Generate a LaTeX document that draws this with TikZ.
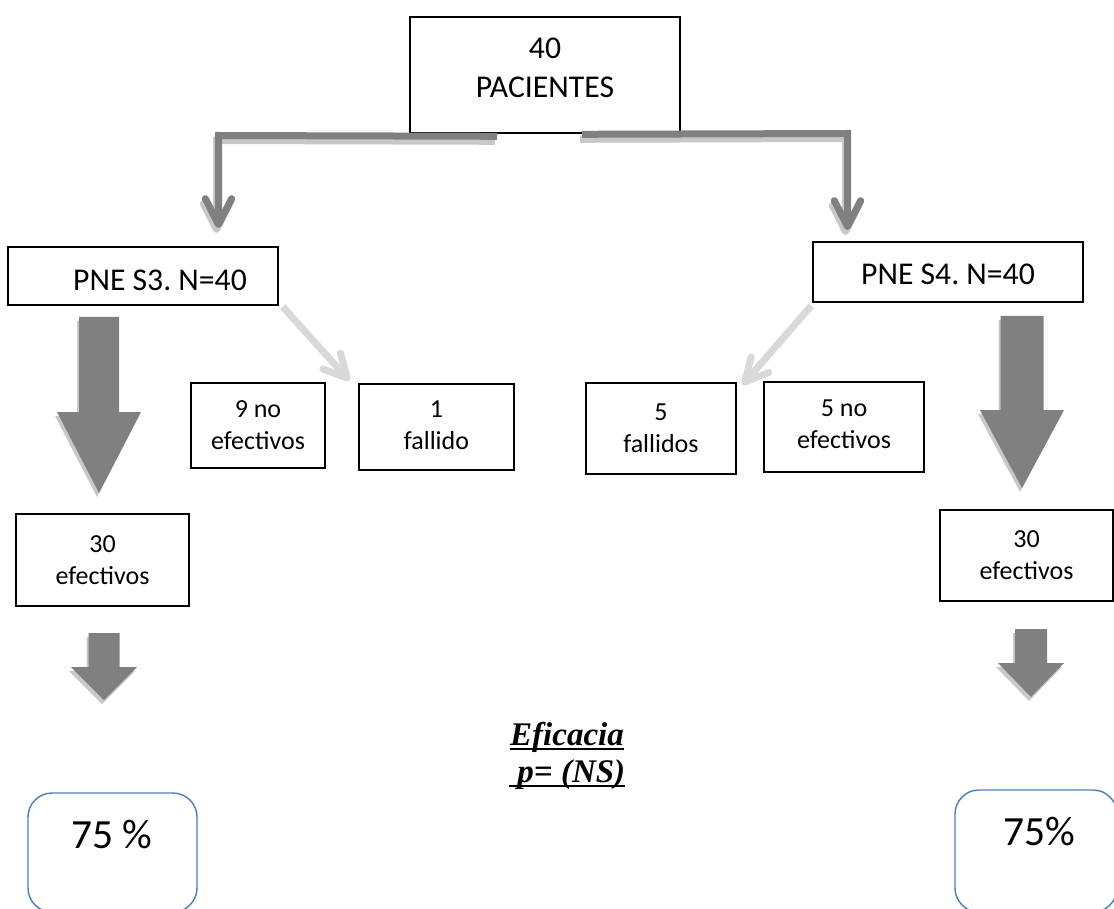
\documentclass[tikz,border=0pt]{standalone}
\usepackage{fontspec}
\setmainfont{Carlito}
\newfontfamily\effont{Liberation Serif}
\usetikzlibrary{calc}
\frenchspacing

\definecolor{arrowgray}{HTML}{808080}
\definecolor{shadowgray}{HTML}{C8C8C8}
\definecolor{lightarrow}{HTML}{D9D9D9}
\definecolor{roundblue}{HTML}{4A7EBB}

\newcommand\fsBig{\fontsize{31.7}{39}\selectfont}
\newcommand\fsSmall{\fontsize{26}{32}\selectfont}
\newcommand\fsPct{\fontsize{41.5}{50}\selectfont}
\newcommand\fsEf{\effont\bfseries\itshape\fontsize{33}{37}\selectfont}

% block arrow: centre x, top, start of head, tip, shaft half width, head half width
\newcommand\blockarrow[6]{%
  \fill[shadowgray, shift={(-2,4)}] (#1-#5,#2) -- (#1+#5,#2) -- (#1+#5,#3) -- (#1+#6,#3)
        -- (#1,#4) -- (#1-#6,#3) -- (#1-#5,#3) -- cycle;
  \fill[arrowgray] (#1-#5,#2) -- (#1+#5,#2) -- (#1+#5,#3) -- (#1+#6,#3)
        -- (#1,#4) -- (#1-#6,#3) -- (#1-#5,#3) -- cycle;}

% open chevron head: options, point the shaft comes from, tip, arm length
\newcommand\chevron[4]{%
  \draw[#1, line cap=round, line join=round]
    ($(#3)!#4!27:(#2)$) -- (#3) -- ($(#3)!#4!-27:(#2)$);}

\begin{document}
\begin{tikzpicture}[x=1pt,y=-1pt,
  boxframe/.style={draw=black, line width=1.6pt, fill=white, inner sep=0pt},
  roundframe/.style={draw=roundblue, line width=1.4pt, rounded corners=24pt, fill=white, inner sep=0pt},
  txt/.style={inner sep=0pt, align=center},
  barline/.style={line width=7pt, line cap=butt, line join=miter},
  thinline/.style={lightarrow, line width=7pt}]

\clip (0,0) rectangle (1114,909);
\fill[white] (0,0) rectangle (1114,909);

% ---- boxes ----
\node[boxframe, minimum width=270pt, minimum height=116pt] (top) at (545,75) {};
\node[txt, font=\fsBig] (toptext) at (545,67.5) {40\\PACIENTES};

\node[boxframe, minimum width=270pt, minimum height=58pt] (s3) at (143,276) {};
\node[txt, font=\fsBig] (s3text) at (160,280) {PNE S3. N=40};

\node[boxframe, minimum width=270pt, minimum height=60pt] (s4) at (948,272) {};
\node[txt, font=\fsBig] (s4text) at (948,274) {PNE S4. N=40};

\node[boxframe, minimum width=134pt, minimum height=85pt] (nine) at (258,425.5) {};
\node[txt, font=\fsSmall] (ninetext) at (258,425) {9 no\\efectivos};

\node[boxframe, minimum width=155pt, minimum height=86pt] (onef) at (436.5,427) {};
\node[txt, font=\fsSmall] (oneftext) at (436.5,425) {1\\fallido};

\node[boxframe, minimum width=150pt, minimum height=91pt] (fivef) at (661,428.5) {};
\node[txt, font=\fsSmall] (fiveftext) at (661,428) {5\\fallidos};

\node[boxframe, minimum width=160pt, minimum height=90pt] (fiveno) at (844,427) {};
\node[txt, font=\fsSmall] (fivenotext) at (844,424) {5 no\\efectivos};

\node[boxframe, minimum width=173pt, minimum height=92pt] (thirtyl) at (102.5,560) {};
\node[txt, font=\fsSmall] (thirtyltext) at (102.5,560) {30\\efectivos};

\node[boxframe, minimum width=173pt, minimum height=91pt] (thirtyr) at (1026.5,555.5) {};
\node[txt, font=\fsSmall] (thirtyrtext) at (1026.5,555) {30\\efectivos};

\node[roundframe, minimum width=169pt, minimum height=119pt] (resl) at (112.5,852.5) {};
\node[txt, font=\fsPct] (resltext) at (112,835) {75 \%};

\node[roundframe, minimum width=162pt, minimum height=122pt] (resr) at (1036,851) {};
\node[txt, font=\fsPct] (resrtext) at (1039,832) {75\%};

% ---- efficacy note ----
\node[anchor=base west, inner sep=0pt, font=\fsEf] (eftitle) at (510,745) {Eficacia};
\node[anchor=base west, inner sep=0pt, font=\fsEf] (efp) at (509,782) {\ p= (NS)};
\draw[line width=2.2pt] ($(eftitle.base west)+(0,4)$) -- ($(eftitle.base east)+(0,4)$);
\draw[line width=2.2pt] ($(efp.base west)+(0,4)$) -- ($(efp.base east)+(0,4)$);

% ---- bent arrows from the top box ----
\coordinate (lstart) at ($(top.south)+(-48,2.5)$);
\coordinate (lcorner) at (218.5,135.5);
\coordinate (ltip) at (218.5,224.5);
\coordinate (rstart) at ($(top.south)+(37,0.5)$);
\coordinate (rcorner) at (847.5,133.5);
\coordinate (rtip) at (847.5,226.5);

\begin{scope}[transform canvas={shift={(-2,5)}}]
  \draw[shadowgray, barline] (lstart) -- (lcorner) -- (ltip);
  \chevron{shadowgray, line width=7pt}{lcorner}{ltip}{29pt}
  \draw[shadowgray, barline] (rstart) -- (rcorner) -- (rtip);
  \chevron{shadowgray, line width=7pt}{rcorner}{rtip}{29pt}
\end{scope}
\draw[arrowgray, barline] (lstart) -- (lcorner) -- (ltip);
\chevron{arrowgray, line width=7pt}{lcorner}{ltip}{29pt}
\draw[arrowgray, barline] (rstart) -- (rcorner) -- (rtip);
\chevron{arrowgray, line width=7pt}{rcorner}{rtip}{29pt}

% ---- light diagonal arrows ----
\coordinate (la1) at ($(s3.south east)+(4,1)$);
\coordinate (la2) at ($(onef.north west)+(-11,-5)$);
\draw[thinline] (la1) -- (la2);
\chevron{lightarrow, line width=7pt}{la1}{la2}{26pt}

\coordinate (ra1) at ($(s4.south west)+(-1,3)$);
\coordinate (ra2) at ($(fivef.north east)+(8,0)$);
\draw[thinline] (ra1) -- (ra2);
\chevron{lightarrow, line width=7pt}{ra1}{ra2}{26pt}

% ---- block arrows ----
\blockarrow{99}{317}{412}{493}{20}{42}
\blockarrow{1022}{316}{410}{488}{21.5}{42}
\blockarrow{104}{633}{667}{700}{15.5}{33}
\blockarrow{1031}{629}{663}{697}{16}{33}

\end{tikzpicture}
\end{document}
